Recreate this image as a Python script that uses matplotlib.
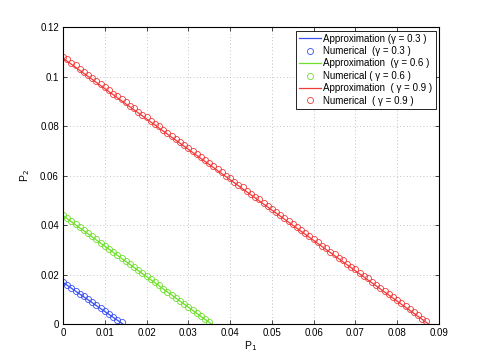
import matplotlib
matplotlib.use("Agg")
import matplotlib.pyplot as plt
from matplotlib.ticker import FuncFormatter

plt.rcParams['font.family'] = ['Liberation Sans', 'DejaVu Sans']

# approximation lines (straight, endpoints)
approx_x = {
    "0.3": [0.0, 0.0143],
    "0.6": [0.0, 0.0355],
    "0.9": [0.0, 0.0875],
}
approx_y = {
    "0.3": [0.0168, 0.0],
    "0.6": [0.0438, 0.0],
    "0.9": [0.1075, 0.0],
}

# numerical points (P1 on a 0.001 grid)
num_x_03 = [0.000, 0.001, 0.002, 0.003, 0.004, 0.005, 0.006, 0.007, 0.008, 0.009,
            0.010, 0.011, 0.012, 0.013, 0.014]
num_y_03 = [0.0170, 0.0158, 0.0147, 0.0135, 0.0123, 0.0112, 0.0100, 0.0088, 0.0076, 0.0065,
            0.0053, 0.0041, 0.0030, 0.0018, 0.0006]

num_x_06 = [0.000, 0.001, 0.002, 0.003, 0.004, 0.005, 0.006, 0.007, 0.008, 0.009,
            0.010, 0.011, 0.012, 0.013, 0.014, 0.015, 0.016, 0.017, 0.018, 0.019,
            0.020, 0.021, 0.022, 0.023, 0.024, 0.025, 0.026, 0.027, 0.028, 0.029,
            0.030, 0.031, 0.032, 0.033, 0.034, 0.035]
num_y_06 = [0.0441, 0.0429, 0.0416, 0.0404, 0.0391, 0.0379, 0.0367, 0.0354, 0.0342, 0.0329,
            0.0317, 0.0305, 0.0292, 0.0280, 0.0267, 0.0255, 0.0243, 0.0230, 0.0218, 0.0205,
            0.0193, 0.0181, 0.0168, 0.0156, 0.0143, 0.0131, 0.0119, 0.0106, 0.0094, 0.0081,
            0.0069, 0.0057, 0.0044, 0.0032, 0.0019, 0.0007]

num_x_09 = [0.000, 0.001, 0.002, 0.003, 0.004, 0.005, 0.006, 0.007, 0.008, 0.009,
            0.010, 0.011, 0.012, 0.013, 0.014, 0.015, 0.016, 0.017, 0.018, 0.019,
            0.020, 0.021, 0.022, 0.023, 0.024, 0.025, 0.026, 0.027, 0.028, 0.029,
            0.030, 0.031, 0.032, 0.033, 0.034, 0.035, 0.036, 0.037, 0.038, 0.039,
            0.040, 0.041, 0.042, 0.043, 0.044, 0.045, 0.046, 0.047, 0.048, 0.049,
            0.050, 0.051, 0.052, 0.053, 0.054, 0.055, 0.056, 0.057, 0.058, 0.059,
            0.060, 0.061, 0.062, 0.063, 0.064, 0.065, 0.066, 0.067, 0.068, 0.069,
            0.070, 0.071, 0.072, 0.073, 0.074, 0.075, 0.076, 0.077, 0.078, 0.079,
            0.080, 0.081, 0.082, 0.083, 0.084, 0.085, 0.086, 0.087]
num_y_09 = [0.1080, 0.1070, 0.1055, 0.1046, 0.1031, 0.1021, 0.1006, 0.0994, 0.0982, 0.0969,
            0.0959, 0.0945, 0.0932, 0.0922, 0.0908, 0.0896, 0.0883, 0.0873, 0.0859, 0.0846,
            0.0836, 0.0822, 0.0809, 0.0799, 0.0785, 0.0773, 0.0760, 0.0750, 0.0736, 0.0723,
            0.0713, 0.0699, 0.0686, 0.0676, 0.0662, 0.0650, 0.0637, 0.0627, 0.0613, 0.0600,
            0.0590, 0.0576, 0.0563, 0.0553, 0.0539, 0.0527, 0.0514, 0.0504, 0.0490, 0.0477,
            0.0467, 0.0453, 0.0440, 0.0430, 0.0416, 0.0404, 0.0391, 0.0381, 0.0367, 0.0354,
            0.0344, 0.0330, 0.0317, 0.0307, 0.0293, 0.0281, 0.0268, 0.0258, 0.0244, 0.0231,
            0.0221, 0.0207, 0.0194, 0.0184, 0.0170, 0.0158, 0.0145, 0.0135, 0.0121, 0.0108,
            0.0098, 0.0084, 0.0071, 0.0061, 0.0047, 0.0035, 0.0022, 0.0010]

x_ticks = [0, 0.01, 0.02, 0.03, 0.04, 0.05, 0.06, 0.07, 0.08, 0.09]
y_ticks = [0, 0.02, 0.04, 0.06, 0.08, 0.1, 0.12]

BLUE = "#3a50f0"
GREEN = "#6ee02a"
RED = "#f03a3a"

fig = plt.figure(figsize=(4.85, 3.64), dpi=100)
ax = fig.add_axes([0.13, 0.11, 0.775, 0.815])

ms = 4.4
lw = 0.9
ax.plot(approx_x["0.3"], approx_y["0.3"], color=BLUE, lw=lw, label="Approximation (\u03b3 = 0.3 )")
ax.plot(num_x_03, num_y_03, "o", mfc="none", mec=BLUE, mew=0.6, ms=ms, label="Numerical  (\u03b3 = 0.3 )")
ax.plot(approx_x["0.6"], approx_y["0.6"], color=GREEN, lw=lw, label="Approximation  (\u03b3 = 0.6 )")
ax.plot(num_x_06, num_y_06, "o", mfc="none", mec=GREEN, mew=0.6, ms=ms, label="Numerical ( \u03b3 = 0.6 )")
ax.plot(approx_x["0.9"], approx_y["0.9"], color=RED, lw=lw, label="Approximation  ( \u03b3 = 0.9 )")
ax.plot(num_x_09, num_y_09, "o", mfc="none", mec=RED, mew=0.6, ms=ms, label="Numerical  ( \u03b3 = 0.9 )")

ax.set_xlim(0, 0.09)
ax.set_ylim(0, 0.12)
ax.set_xticks(x_ticks)
ax.set_yticks(y_ticks)
fmt = FuncFormatter(lambda v, p: "%g" % round(v, 4))
ax.xaxis.set_major_formatter(fmt)
ax.yaxis.set_major_formatter(fmt)
ax.tick_params(direction="in", length=3, width=0.5, labelsize=7, top=True, right=True, pad=3)
ax.grid(True, linestyle=(0, (1, 3)), color="#b0b0b0", lw=0.6)
for s in ax.spines.values():
    s.set_linewidth(0.8)

ax.set_xlabel("P$_1$", fontsize=7.5, labelpad=1)
ax.set_ylabel("P$_2$", fontsize=7.5, labelpad=6)

leg = ax.legend(loc="upper right", fontsize=7, frameon=True, fancybox=False,
                edgecolor="black", framealpha=1, borderaxespad=0.35, handlelength=2.2,
                labelspacing=0.25, handletextpad=0.3, borderpad=0.3)
leg.get_frame().set_linewidth(0.6)

fig.savefig("out.png", dpi=100)
